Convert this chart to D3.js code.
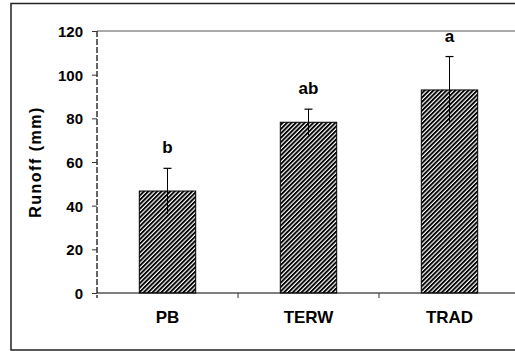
<!DOCTYPE html>
<html>
<head>
<meta charset="utf-8">
<script src="https://cdn.jsdelivr.net/npm/d3@7"></script>
<style>
  body { margin: 0; background: #fff; }
  svg text { font-family: "Liberation Sans", Arial, sans-serif; font-weight: bold; fill: #000; }
</style>
</head>
<body>
<svg id="chart"></svg>
<script>
// data
const categories = ["PB", "TERW", "TRAD"];
const means = [46.7, 78.2, 93.0];
const errors = [10.4, 6.0, 15.3];
const letters = ["b", "ab", "a"];
const yTicks = [0, 20, 40, 60, 80, 100, 120];

const width = 515, height = 351;
const margin = { top: 31, left: 97 };
const plotW = 423, plotH = 262;

const svg = d3.select("#chart")
    .attr("width", width)
    .attr("height", height);

// hatch fill
const defs = svg.append("defs");
const pat = defs.append("pattern")
    .attr("id", "hatch")
    .attr("patternUnits", "userSpaceOnUse")
    .attr("width", 3.1)
    .attr("height", 3.1)
    .attr("patternTransform", "rotate(45)");
pat.append("rect").attr("width", 3.1).attr("height", 3.1).attr("fill", "#fff");
pat.append("rect").attr("width", 1.9).attr("height", 3.1).attr("fill", "#000");

// outer frame (right edge is cropped off in the reference)
svg.append("rect")
    .attr("x", 11).attr("y", 3.5)
    .attr("width", 520).attr("height", 346.5)
    .attr("fill", "none")
    .attr("stroke", "#222")
    .attr("stroke-width", 1.5);

const chart = svg.append("g")
    .attr("transform", `translate(${margin.left},${margin.top})`);

const x = d3.scaleBand()
    .domain(categories)
    .range([0, plotW])
    .paddingInner(0.6)
    .paddingOuter(0.3);

const y = d3.scaleLinear()
    .domain([0, 120])
    .range([plotH, 0]);

// plot top border
chart.append("line")
    .attr("x1", 0).attr("x2", plotW)
    .attr("y1", 0).attr("y2", 0)
    .attr("stroke", "#555")
    .attr("stroke-width", 1);

// bars
chart.selectAll(".bar")
    .data(categories)
    .join("rect")
    .attr("class", "bar")
    .attr("x", d => x(d))
    .attr("y", (d, i) => y(means[i]))
    .attr("width", x.bandwidth())
    .attr("height", (d, i) => plotH - y(means[i]))
    .attr("fill", "url(#hatch)")
    .attr("stroke", "#000")
    .attr("stroke-width", 1);

// error bars
const eb = chart.selectAll(".err")
    .data(categories)
    .join("g")
    .attr("class", "err")
    .attr("transform", d => `translate(${x(d) + x.bandwidth() / 2},0)`);

eb.append("line")
    .attr("y1", (d, i) => y(means[i] + errors[i]))
    .attr("y2", (d, i) => y(means[i] - errors[i]))
    .attr("stroke", "#000")
    .attr("stroke-width", 1);

eb.append("line")
    .attr("x1", -4).attr("x2", 4)
    .attr("y1", (d, i) => y(means[i] + errors[i]))
    .attr("y2", (d, i) => y(means[i] + errors[i]))
    .attr("stroke", "#000")
    .attr("stroke-width", 1.2);

eb.append("text")
    .attr("y", (d, i) => y(means[i] + errors[i]) - 15)
    .attr("text-anchor", "middle")
    .style("font-size", "17px")
    .text((d, i) => letters[i]);

// y axis
const yAxis = d3.axisLeft(y)
    .tickValues(yTicks)
    .tickSize(5)
    .tickPadding(9);

const gy = chart.append("g").call(yAxis);
gy.select(".domain").remove();
gy.append("line")
    .attr("y1", 0).attr("y2", plotH + 5)
    .attr("stroke", "#333")
    .attr("stroke-width", 1.5)
    .attr("stroke-dasharray", "6,2");
gy.selectAll(".tick line").attr("stroke", "#333");
gy.selectAll(".tick text")
    .style("font-size", "15px")
    .attr("dy", "0.36em");

// x axis with ticks between categories
const xAxis = d3.axisBottom(x).tickSize(0).tickPadding(16);
const gx = chart.append("g")
    .attr("transform", `translate(0,${plotH})`)
    .call(xAxis);
gx.select(".domain")
    .attr("d", `M0,0H${plotW}`)
    .attr("stroke", "#000")
    .attr("stroke-width", 1.2);
gx.selectAll(".tick text")
    .style("font-size", "17px")
    .attr("dy", "0.85em");

const bounds = categories.slice(1).map(d => x(d) - x.step() * x.paddingInner() / 2);
gx.selectAll(".sep")
    .data(bounds)
    .join("line")
    .attr("class", "sep")
    .attr("x1", d => d).attr("x2", d => d)
    .attr("y1", 0).attr("y2", 5)
    .attr("stroke", "#333");

// axis title
svg.append("text")
    .attr("transform", `translate(41,${margin.top + plotH / 2}) rotate(-90)`)
    .attr("text-anchor", "middle")
    .style("font-size", "16px")
    .style("letter-spacing", "1.5px")
    .text("Runoff (mm)");
</script>
</body>
</html>
